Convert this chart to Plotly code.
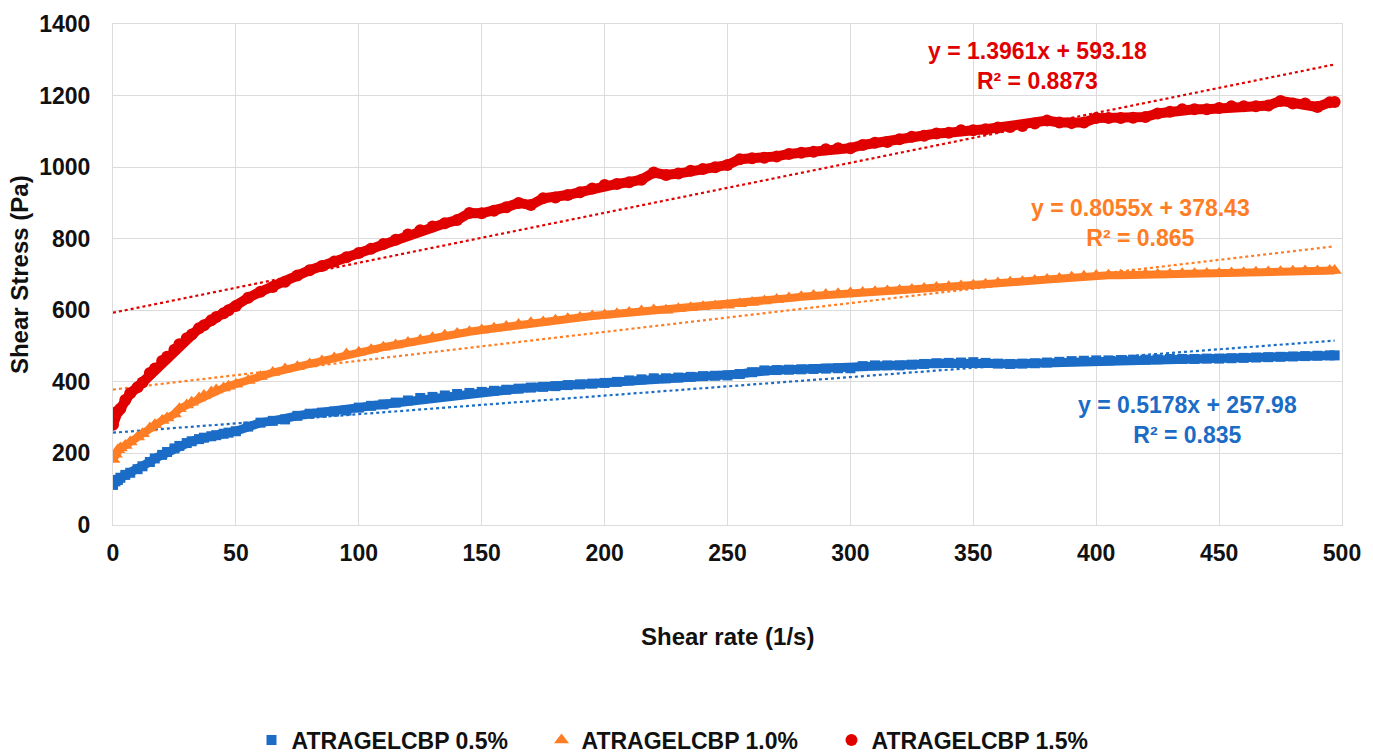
import plotly.graph_objects as go

# ---------------- data ----------------
shear_rate = [0, 1, 2, 3, 5, 7, 10, 12, 15, 17,
              20, 22, 25, 27, 30, 32, 35, 37, 40, 42,
              45, 47, 50, 55, 60, 65, 70, 75, 80, 85,
              90, 95, 100, 105, 110, 115, 120, 125, 130, 135,
              140, 145, 150, 155, 160, 165, 170, 175, 180, 185,
              190, 195, 200, 205, 210, 215, 220, 225, 230, 235,
              240, 245, 250, 255, 260, 265, 270, 275, 280, 285,
              290, 295, 300, 305, 310, 315, 320, 325, 330, 335,
              340, 345, 350, 355, 360, 365, 370, 375, 380, 385,
              390, 395, 400, 405, 410, 415, 420, 425, 430, 435,
              440, 445, 450, 455, 460, 465, 470, 475, 480, 485,
              490, 495, 497]

stress_05 = [112, 122, 126, 132, 140, 146, 156, 164, 176, 186,
             196, 204, 214, 221, 229, 234, 240, 244, 248, 251,
             255, 258, 262, 275, 286, 291, 295, 305, 311, 314,
             317, 320, 328, 333, 337, 342, 348, 355, 358, 362,
             366, 369, 372, 375, 378, 381, 384, 386, 388, 391,
             393, 395, 397, 400, 404, 407, 410, 410, 412, 414,
             416, 417, 418, 422, 427, 432, 433, 434, 435, 436,
             437, 438, 438, 444, 446, 446, 446, 448, 450, 452,
             453, 454, 455, 453, 451, 450, 451, 452, 454, 456,
             458, 459, 460, 460, 461, 462, 462, 463, 464, 464,
             464, 465, 465, 466, 467, 468, 469, 470, 471, 472,
             473, 474, 474]

stress_10 = [183, 198, 210, 215, 222, 232, 246, 255, 271, 280,
             292, 299, 310, 325, 335, 343, 355, 362, 372, 377,
             383, 388, 393, 404, 415, 426, 436, 442, 450, 458,
             467, 478, 483, 490, 497, 503, 510, 517, 523, 530,
             535, 540, 545, 550, 555, 560, 565, 567, 572, 576,
             580, 584, 587, 590, 594, 598, 601, 600, 604, 607,
             610, 612, 614, 618, 622, 626, 630, 634, 638, 641,
             644, 646, 648, 650, 652, 654, 656, 658, 661, 664,
             666, 668, 670, 673, 676, 678, 680, 683, 686, 689,
             692, 695, 697, 698, 698, 699, 700, 700, 701, 702,
             702, 703, 703, 704, 705, 706, 707, 708, 709, 710,
             710, 711, 711]

stress_15 = [280, 313, 318, 325, 349, 368, 385, 398, 425, 437,
             458, 470, 490, 505, 522, 532, 550, 558, 572, 581,
             592, 600, 612, 635, 652, 665, 680, 697, 712, 724,
             736, 748, 760, 772, 785, 797, 812, 824, 834, 843,
             852, 872, 871, 878, 888, 900, 894, 913, 915, 922,
             930, 940, 950, 953, 958, 965, 985, 978, 982, 990,
             995, 1000, 1006, 1022, 1025, 1026, 1030, 1037, 1040, 1043,
             1050, 1053, 1053, 1062, 1068, 1070, 1078, 1085, 1088, 1094,
             1096, 1103, 1103, 1106, 1111, 1112, 1115, 1122, 1130, 1125,
             1123, 1125, 1137, 1137, 1137, 1138, 1140, 1150, 1155, 1162,
             1162, 1162, 1165, 1170, 1170, 1170, 1172, 1185, 1178, 1178,
             1168, 1181, 1182]

series_names = ["ATRAGELCBP 0.5%", "ATRAGELCBP 1.0%", "ATRAGELCBP 1.5%"]
trend_slope = [0.5178, 0.8055, 1.3961]
trend_intercept = [257.98, 378.43, 593.18]
trend_r2 = ["0.835", "0.865", "0.8873"]
trend_x_range = [0, 497]

x_ticks = [0, 50, 100, 150, 200, 250, 300, 350, 400, 450, 500]
y_ticks = [0, 200, 400, 600, 800, 1000, 1200, 1400]

# ---------------- styling ----------------
colors = ["#1a6cc6", "#ff7d24", "#e00000"]
symbols = ["square", "triangle-up", "circle"]
marker_sizes = [10, 13, 12]
band_widths = [9, 8, 10]
FONT = "Liberation Sans, Arial, sans-serif"

fig = go.Figure()

all_stress = [stress_05, stress_10, stress_15]

# trendlines (dotted) drawn first so markers sit on top
for i in range(3):
    ty = [trend_slope[i] * xv + trend_intercept[i] for xv in trend_x_range]
    fig.add_trace(go.Scatter(
        x=trend_x_range, y=ty, mode="lines",
        line=dict(color=colors[i], width=2.2, dash="dot"),
        showlegend=False, hoverinfo="skip"))

for i in range(3):
    # thick band joining the dense measured points
    fig.add_trace(go.Scatter(
        x=shear_rate, y=all_stress[i], mode="lines",
        line=dict(color=colors[i], width=band_widths[i]),
        showlegend=False, hoverinfo="skip"))
    fig.add_trace(go.Scatter(
        x=shear_rate, y=all_stress[i], mode="markers",
        name=series_names[i],
        marker=dict(color=colors[i], symbol=symbols[i], size=marker_sizes[i],
                    line=dict(width=0))))

# trendline equations
eq_pos = [(437, 293), (418, 844), (376, 1282)]
for i in range(3):
    txt = f"y = {trend_slope[i]:.4f}x + {trend_intercept[i]:.2f}<br>R² = {trend_r2[i]}"
    fig.add_annotation(
        x=eq_pos[i][0], y=eq_pos[i][1], xref="x", yref="y", text=txt,
        showarrow=False, align="center", xanchor="center", yanchor="middle",
        font=dict(family=FONT, size=23, color=colors[i], weight="bold"))

# axis titles
fig.add_annotation(
    x=0.5, y=-0.222, xref="paper", yref="paper", text="Shear rate (1/s)",
    showarrow=False, xanchor="center", yanchor="middle",
    font=dict(family=FONT, size=24, color="#111111", weight="bold"))
fig.add_annotation(
    x=-0.076, y=0.5, xref="paper", yref="paper", text="Shear Stress (Pa)",
    showarrow=False, textangle=-90, xanchor="center", yanchor="middle",
    font=dict(family=FONT, size=24, color="#111111", weight="bold"))

axis_common = dict(
    showgrid=True, gridcolor="#dcdcdc", gridwidth=1,
    showline=True, linecolor="#dcdcdc", linewidth=1, mirror=True,
    zeroline=False, ticks="",
    tickfont=dict(family=FONT, size=23, color="#111111", weight="bold"),
)

fig.update_layout(
    width=1373, height=753,
    margin=dict(l=113, r=31, t=24, b=228),
    paper_bgcolor="white", plot_bgcolor="white",
    xaxis=dict(range=[0, 500], tickmode="array", tickvals=x_ticks,
               ticklabelstandoff=7, **axis_common),
    yaxis=dict(range=[0, 1400], tickmode="array", tickvals=y_ticks,
               ticklabelstandoff=17, **axis_common),
    legend=dict(orientation="h", xref="container", yref="container",
                x=0.5, y=(753 - 740) / 753, xanchor="center",
                yanchor="middle", font=dict(family=FONT, size=23,
                                            color="#111111", weight="bold"),
                entrywidth=245, entrywidthmode="pixels", itemwidth=30,
                itemsizing="trace", bgcolor="rgba(0,0,0,0)"),
    showlegend=True,
)

fig.write_html("out.html", config={"displayModeBar": False},
               post_script="document.body.style.margin='0';")
